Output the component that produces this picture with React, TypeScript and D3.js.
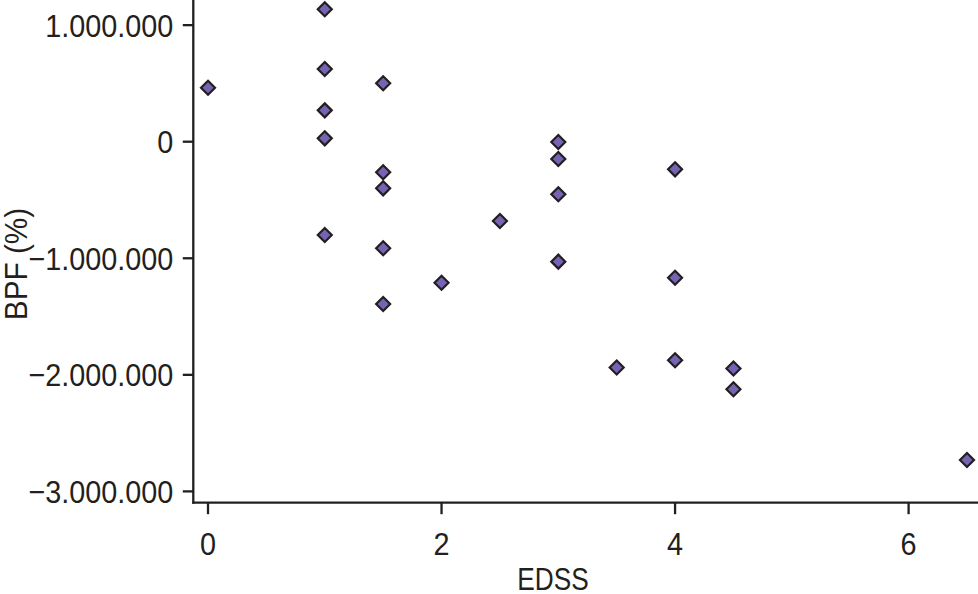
import React from "react";
import * as d3 from "d3";

const edss: number[] = [0, 1, 1, 1, 1, 1, 1.5, 1.5, 1.5, 1.5, 1.5, 2, 2.5, 3, 3, 3, 3, 3.5, 4, 4, 4, 4.5, 4.5, 6.5];
const bpf: number[] = [
  463000, 1136000, 624000, 269000, 29000, -800000,
  501000, -262000, -400000, -914000, -1392000,
  -1210000, -680000,
  -3000, -148000, -451000, -1029000,
  -1937000, -237000, -1167000, -1875000,
  -1946000, -2124000, -2731000,
];
const xTicks: number[] = [0, 2, 4, 6];
const yTicks: number[] = [1000000, 0, -1000000, -2000000, -3000000];
const xLabel = "EDSS";
const yLabel = "BPF (%)";

const W = 978;
const H = 594;
const FONT = "'Liberation Sans', Arial, sans-serif";
const INK = "#231f20";
const FILL = "#7763b3";

const fmtY = (v: number) => {
  const s = Math.abs(v).toString().replace(/\B(?=(\d{3})+(?!\d))/g, ".");
  return (v < 0 ? "\u2212" : "") + s;
};

export default function App() {
  const x = d3.scaleLinear().domain([-0.126, 6.65]).range([193.3, 984.5]);
  const y = d3.scaleLinear().domain([-3.097e6, 1.25e6]).range([502.7, -4.0]);
  const [x0, x1] = x.range();
  const [y0, y1] = y.range();
  const diamond = "M0,-7L7,0L0,7L-7,0Z";

  return (
    <svg
      width={W}
      height={H}
      viewBox={`0 0 ${W} ${H}`}
      style={{ position: "absolute", left: 0, top: 0, display: "block", background: "#fff" }}
    >
      <rect x={0} y={0} width={W} height={H} fill="#fff" />
      <line x1={x0} x2={x0} y1={y0 + 1} y2={y1} stroke={INK} strokeWidth={2.3} />
      <line x1={x0 - 1} x2={x1} y1={y0} y2={y0} stroke={INK} strokeWidth={2.3} />
      {yTicks.map((t) => (
        <g key={"y" + t}>
          <line x1={x0 - 10.5} x2={x0} y1={y(t)} y2={y(t)} stroke={INK} strokeWidth={2.3} />
          <text
            transform={`translate(${x0 - 20},${y(t)}) scale(0.9,1)`}
            dy="0.36em"
            textAnchor="end"
            fontFamily={FONT}
            fontSize={32}
            fill={INK}
          >
            {fmtY(t)}
          </text>
        </g>
      ))}
      {xTicks.map((t) => (
        <g key={"x" + t}>
          <line x1={x(t)} x2={x(t)} y1={y0} y2={y0 + 11.5} stroke={INK} strokeWidth={2.3} />
          <text
            transform={`translate(${x(t)},555) scale(0.9,1)`}
            textAnchor="middle"
            fontFamily={FONT}
            fontSize={32}
            fill={INK}
          >
            {t}
          </text>
        </g>
      ))}
      <text
        transform="translate(553,590) scale(0.82,1)"
        textAnchor="middle"
        fontFamily={FONT}
        fontSize={32}
        fill={INK}
      >
        {xLabel}
      </text>
      <text
        transform={`translate(27,264) rotate(-90) scale(0.93,1)`}
        textAnchor="middle"
        fontFamily={FONT}
        fontSize={32}
        fill={INK}
      >
        {yLabel}
      </text>
      {edss.map((e, i) => (
        <path
          key={i}
          d={diamond}
          transform={`translate(${x(e)},${y(bpf[i])})`}
          fill={FILL}
          stroke={INK}
          strokeWidth={2.2}
          strokeLinejoin="miter"
        />
      ))}
    </svg>
  );
}
